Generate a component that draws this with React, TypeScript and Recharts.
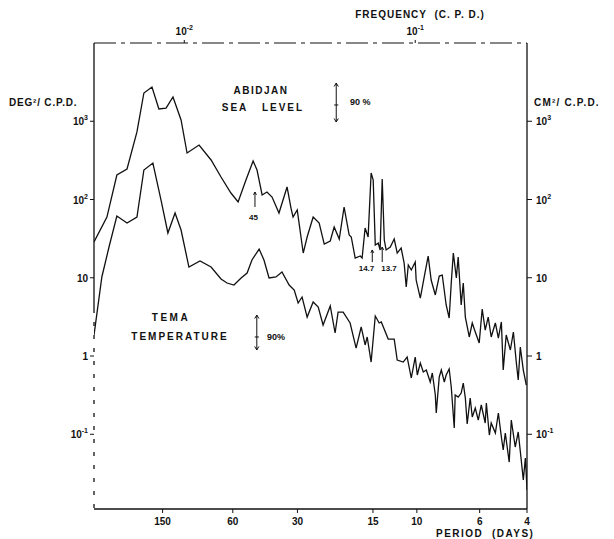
import React from 'react';
import { LineChart, Line, XAxis, YAxis, ReferenceLine } from 'recharts';

// x: log10 frequency (cycles per day); y: log10 spectral density
const abidjanLogF = [
  -2.391, -2.335, -2.292, -2.248, -2.205, -2.175, -2.140, -2.110, -2.079, -2.049,
  -2.014, -1.988, -1.936, -1.884, -1.841, -1.798, -1.767, -1.733, -1.702, -1.685,
  -1.663, -1.642, -1.620, -1.590, -1.555, -1.538, -1.529, -1.511, -1.485, -1.468,
  -1.442, -1.416, -1.394, -1.368, -1.351, -1.329, -1.308, -1.286, -1.277, -1.260,
  -1.238, -1.230, -1.217, -1.204, -1.191, -1.182, -1.173, -1.160, -1.152, -1.143,
  -1.134, -1.126, -1.108, -1.091, -1.078, -1.061, -1.048, -1.039, -1.030, -1.017,
  -1.000, -0.996, -0.978, -0.961, -0.944, -0.931, -0.913, -0.896, -0.883, -0.866,
  -0.853, -0.844, -0.835, -0.822, -0.814, -0.801, -0.792, -0.783, -0.766, -0.753,
  -0.740, -0.723, -0.710, -0.697, -0.684, -0.671, -0.653, -0.640, -0.627, -0.619,
  -0.606, -0.588, -0.575, -0.562, -0.554, -0.545, -0.532, -0.519,
];
const abidjanLogS = [
  1.457, 1.776, 2.313, 2.390, 2.863, 3.361, 3.438, 3.157, 3.169, 3.310,
  3.016, 2.594, 2.696, 2.505, 2.288, 2.083, 1.968, 2.249, 2.492, 2.377,
  2.058, 2.096, 2.032, 1.827, 2.160, 1.891, 1.776, 1.866, 1.316, 1.521,
  1.776, 1.700, 1.431, 1.470, 1.649, 1.495, 1.904, 1.546, 1.521, 1.252,
  1.278, 1.252, 1.636, 1.521, 2.339, 2.249, 1.419, 1.444, 1.355, 2.262,
  1.482, 1.355, 1.393, 1.495, 1.316, 1.380, 1.188, 0.882, 1.163, 1.099,
  1.201, 0.971, 0.741, 1.010, 1.278, 0.971, 0.780, 1.022, 1.035, 0.652,
  0.486, 0.933, 1.316, 0.997, 1.265, 0.652, 0.933, 0.498, 0.243, 0.422,
  0.307, 0.166, 0.601, 0.332, 0.498, 0.243, 0.422, 0.230, 0.435, -0.179,
  0.268, 0.077, 0.307, -0.089, -0.307, 0.115, -0.179, -0.371,
];
const temaLogF = [
  -2.391, -2.357, -2.326, -2.292, -2.248, -2.205, -2.175, -2.136, -2.101, -2.071,
  -2.040, -2.014, -1.980, -1.932, -1.884, -1.841, -1.815, -1.785, -1.754, -1.728,
  -1.707, -1.676, -1.655, -1.633, -1.603, -1.577, -1.546, -1.524, -1.507, -1.490,
  -1.468, -1.442, -1.420, -1.399, -1.368, -1.347, -1.334, -1.312, -1.282, -1.256,
  -1.234, -1.217, -1.208, -1.191, -1.173, -1.156, -1.147, -1.117, -1.091, -1.078,
  -1.052, -1.035, -1.017, -1.000, -0.991, -0.978, -0.965, -0.952, -0.935, -0.926,
  -0.913, -0.909, -0.896, -0.887, -0.874, -0.866, -0.853, -0.844, -0.831, -0.827,
  -0.814, -0.801, -0.792, -0.783, -0.775, -0.762, -0.753, -0.740, -0.727, -0.714,
  -0.697, -0.692, -0.679, -0.671, -0.653, -0.640, -0.627, -0.619, -0.610, -0.593,
  -0.584, -0.567, -0.554, -0.541, -0.532, -0.523, -0.519, -0.516,
];
const temaLogS = [
  0.268, 1.010, 1.393, 1.789, 1.700, 1.776, 2.377, 2.466, 1.994, 1.572,
  1.827, 1.610, 1.137, 1.214, 1.137, 0.984, 0.933, 0.907, 0.997, 1.061,
  1.227, 1.367, 1.227, 0.997, 1.010, 1.073, 0.907, 0.843, 0.677, 0.754,
  0.498, 0.690, 0.626, 0.396, 0.639, 0.294, 0.562, 0.562, 0.422, 0.102,
  0.371, 0.141, 0.243, -0.077, 0.511, 0.422, 0.435, 0.217, 0.217, -0.051,
  -0.077, -0.013, -0.281, -0.013, -0.243, -0.089, -0.204, -0.179, -0.332, -0.217,
  -0.498, -0.728, -0.268, -0.179, -0.332, -0.243, -0.166, -0.396, -0.920, -0.498,
  -0.524, -0.473, -0.345, -0.537, -0.869, -0.537, -0.780, -0.665, -0.818, -0.626,
  -0.856, -0.601, -1.010, -0.856, -0.984, -0.728, -1.035, -1.201, -0.984, -1.355,
  -0.818, -1.163, -0.971, -1.329, -1.585, -1.304, -1.521, -1.712,
];

// bottom axis: period labels and where the reference places them (log10 cpd)
const periodLabels = ['150', '60', '30', '15', '10', '6', '4'];
const periodTickLogF = [-2.094, -1.79, -1.51, -1.183, -0.993, -0.721, -0.516];
// top axis: frequency decades
const freqTickLogF = [-2, -1];
// y axis decades
const densityTickLog = [-1, 0, 1, 2, 3];

// 90% confidence bars
const confBars = [
  { x: -1.342, lo: 2.99, mid: 3.208, hi: 3.489 },
  { x: -1.686, lo: 0.077, mid: 0.243, hi: 0.524 },
];
// peak markers (arrow pointing up)
const peakArrows = [
  { x: -1.694, lo: 1.904, hi: 2.096 },
  { x: -1.186, lo: 1.201, hi: 1.355 },
  { x: -1.143, lo: 1.201, hi: 1.393 },
];

const X_DOMAIN: [number, number] = [-2.391, -0.516];
const Y_DOMAIN: [number, number] = [-1.955, 4.0];

const INK = '#111';
const FONT = '"Liberation Sans", Arial, Helvetica, sans-serif';
const LEFT_AXIS_DASH = ['270', ...Array(18).fill('9 4')].join(' ');

const abidjanData = abidjanLogF.map((f, i) => ({ f, s: abidjanLogS[i] }));
const temaData = temaLogF.map((f, i) => ({ f, s: temaLogS[i] }));

function powLabel(v: number) {
  if (v === 0) return '1';
  if (v === 1) return '10';
  return (
    <>
      10
      <tspan dy={-5} fontSize={7}>
        {String(v)}
      </tspan>
    </>
  );
}

function LeftTick(props: any) {
  const { x, y, payload } = props;
  return (
    <text x={x} y={y} dy={4} textAnchor="end" fill={INK} fontSize={10} fontWeight={700} fontFamily={FONT}>
      {powLabel(payload.value)}
    </text>
  );
}
function RightTick(props: any) {
  const { x, y, payload } = props;
  return (
    <text x={x} y={y} dy={4} textAnchor="start" fill={INK} fontSize={10} fontWeight={700} fontFamily={FONT}>
      {powLabel(payload.value)}
    </text>
  );
}
function TopTick(props: any) {
  const { x, y, payload } = props;
  return (
    <text x={x} y={y} textAnchor="middle" fill={INK} fontSize={10} fontWeight={700} fontFamily={FONT}>
      10
      <tspan dy={-5} fontSize={7}>
        {String(payload.value)}
      </tspan>
    </text>
  );
}
function BottomTick(props: any) {
  const { x, y, payload } = props;
  const idx = periodTickLogF.findIndex((v) => Math.abs(v - payload.value) < 1e-6);
  return (
    <text x={x} y={y} dy={8} textAnchor="middle" fill={INK} fontSize={10} fontWeight={700} fontFamily={FONT}>
      {idx >= 0 ? periodLabels[idx] : ''}
    </text>
  );
}

function Note({ x, y, children, size = 10, ls = 0, align = 'center' }: any) {
  return (
    <span
      style={{
        position: 'absolute',
        left: x,
        top: y,
        transform: align === 'center' ? 'translate(-50%, -50%)' : 'translate(0, -50%)',
        fontFamily: FONT,
        fontWeight: 700,
        fontSize: size,
        letterSpacing: ls,
        color: INK,
        whiteSpace: 'pre',
        lineHeight: 1,
      }}
    >
      {children}
    </span>
  );
}

export default function App() {
  const seg = (a: [number, number], b: [number, number], key: string) => (
    <ReferenceLine
      key={key}
      xAxisId="b"
      yAxisId="l"
      segment={[
        { x: a[0], y: a[1] },
        { x: b[0], y: b[1] },
      ]}
      stroke={INK}
      strokeWidth={1}
      ifOverflow="visible"
    />
  );
  const ahx = 0.009;
  const ahy = 0.045;
  const annotationLines: any[] = [];
  confBars.forEach((c, i) => {
    annotationLines.push(seg([c.x, c.lo], [c.x, c.hi], `cb${i}`));
    annotationLines.push(seg([c.x - 0.009, c.mid], [c.x + 0.009, c.mid], `cm${i}`));
    annotationLines.push(seg([c.x - ahx, c.hi - ahy], [c.x, c.hi], `ch1${i}`));
    annotationLines.push(seg([c.x + ahx, c.hi - ahy], [c.x, c.hi], `ch2${i}`));
    annotationLines.push(seg([c.x - ahx, c.lo + ahy], [c.x, c.lo], `cl1${i}`));
    annotationLines.push(seg([c.x + ahx, c.lo + ahy], [c.x, c.lo], `cl2${i}`));
  });
  peakArrows.forEach((p, i) => {
    annotationLines.push(seg([p.x, p.lo], [p.x, p.hi], `pa${i}`));
    annotationLines.push(seg([p.x - ahx * 0.7, p.hi - ahy * 0.8], [p.x, p.hi], `ph1${i}`));
    annotationLines.push(seg([p.x + ahx * 0.7, p.hi - ahy * 0.8], [p.x, p.hi], `ph2${i}`));
  });

  return (
    <div style={{ position: 'relative', width: 614, height: 539, background: '#fff' }}>
      <style>{'body{margin:0;background:#fff}'}</style>
      <LineChart
        width={614}
        height={539}
        margin={{ top: 23, right: 47, bottom: 10, left: 54 }}
      >
        <XAxis
          xAxisId="b"
          dataKey="f"
          type="number"
          domain={X_DOMAIN}
          allowDataOverflow
          ticks={periodTickLogF}
          interval={0}
          height={20}
          tickSize={4}
          tickMargin={4}
          tick={<BottomTick />}
          axisLine={{ stroke: INK, strokeWidth: 1.3 }}
          tickLine={{ stroke: INK }}
        />
        <XAxis
          xAxisId="t"
          orientation="top"
          dataKey="f"
          type="number"
          domain={X_DOMAIN}
          allowDataOverflow
          ticks={freqTickLogF}
          interval={0}
          height={20}
          tickSize={3}
          tickMargin={5}
          tick={<TopTick />}
          axisLine={{ stroke: INK, strokeWidth: 1.2, strokeDasharray: '22 5 4 5' }}
          tickLine={{ stroke: INK }}
        />
        <YAxis
          yAxisId="l"
          type="number"
          domain={Y_DOMAIN}
          allowDataOverflow
          ticks={densityTickLog}
          interval={0}
          width={40}
          tickSize={4}
          tickMargin={2}
          tick={<LeftTick />}
          axisLine={{ stroke: INK, strokeWidth: 1.3, strokeDasharray: LEFT_AXIS_DASH }}
          tickLine={{ stroke: INK }}
        />
        <YAxis
          yAxisId="r"
          orientation="right"
          type="number"
          domain={Y_DOMAIN}
          allowDataOverflow
          ticks={densityTickLog}
          interval={0}
          width={40}
          tickSize={5}
          tickMargin={4}
          tick={<RightTick />}
          axisLine={{ stroke: INK, strokeWidth: 1.3 }}
          tickLine={{ stroke: INK }}
        />
        <Line
          xAxisId="b"
          yAxisId="l"
          data={abidjanData}
          dataKey="s"
          type="linear"
          dot={false}
          stroke={INK}
          strokeWidth={1.3}
          isAnimationActive={false}
        />
        <Line
          xAxisId="b"
          yAxisId="l"
          data={temaData}
          dataKey="s"
          type="linear"
          dot={false}
          stroke={INK}
          strokeWidth={1.3}
          isAnimationActive={false}
        />
        {annotationLines}
      </LineChart>

      <Note x={420} y={15} ls={1}>FREQUENCY  (C. P. D.)</Note>
      <Note x={9} y={103} ls={0.8} align="left">DEG²/ C.P.D.</Note>
      <Note x={534} y={103} ls={1.2} align="left">CM²/ C.P.D.</Note>
      <Note x={261} y={91} ls={1.5}>ABIDJAN</Note>
      <Note x={235} y={108} ls={2}>SEA</Note>
      <Note x={283} y={108} ls={2}>LEVEL</Note>
      <Note x={350} y={102} size={9} align="left">90 %</Note>
      <Note x={253.5} y={218} size={8}>45</Note>
      <Note x={366.5} y={269} size={8}>14.7</Note>
      <Note x={389} y={269} size={8}>13.7</Note>
      <Note x={171} y={318} ls={2.5}>TEMA</Note>
      <Note x={180} y={337} ls={2}>TEMPERATURE</Note>
      <Note x={267} y={337} size={9} align="left">90%</Note>
      <Note x={436} y={534} ls={1.5} align="left">PERIOD  (DAYS)</Note>
    </div>
  );
}
